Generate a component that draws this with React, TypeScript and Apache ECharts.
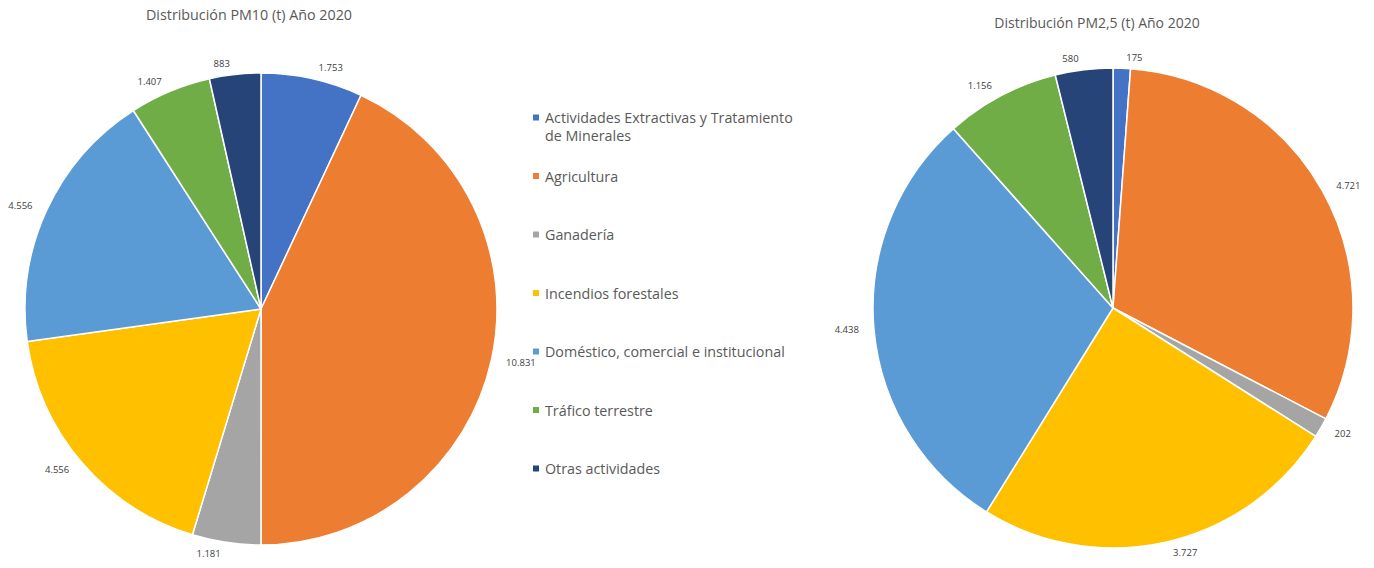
import React, { useEffect, useRef } from "react";
import * as echarts from "echarts";

const categories = [
  "Actividades Extractivas y Tratamiento de Minerales",
  "Agricultura",
  "Ganadería",
  "Incendios forestales",
  "Doméstico, comercial e institucional",
  "Tráfico terrestre",
  "Otras actividades",
];
const legendFirstLine = "Actividades Extractivas y Tratamiento";
const legendSecondLine = "de Minerales";
const colors = ["#4472C4", "#ED7D31", "#A5A5A5", "#FFC000", "#5B9BD5", "#70AD47", "#264478"];
const pm10Values = [1753, 10831, 1181, 4556, 4556, 1407, 883];
const pm25Values = [175, 4721, 202, 3727, 4438, 1156, 580];
const titles = ["Distribución PM10 (t) Año 2020", "Distribución PM2,5 (t) Año 2020"];

const fmt = (v: number) => String(v).replace(/\B(?=(\d{3})+(?!\d))/g, ".");

export default function App() {
  const ref = useRef<HTMLDivElement>(null);
  useEffect(() => {
    document.body.style.margin = "0";
    const chart = echarts.init(ref.current!, null, { renderer: "svg" });
    const font = "'Open Sans', 'Noto Sans', sans-serif";
    const mkSeries = (values: number[], center: [number, number], radius: number) => ({
      type: "pie",
      center,
      radius,
      startAngle: 90,
      clockwise: true,
      avoidLabelOverlap: true,
      data: categories.map((c, i) => ({ name: c, value: values[i], itemStyle: { color: colors[i] } })),
      itemStyle: { borderColor: "#ffffff", borderWidth: 1.5 },
      label: {
        show: true,
        position: "outside",
        formatter: (p: any) => fmt(p.value),
        fontFamily: font,
        fontSize: 9.5,
        color: "#404040",
        overflow: "none",
        distanceToLabelLine: 3,
      },
      labelLine: { show: false, length: 11, length2: 1 },
      emphasis: { disabled: true },
    });
    chart.setOption({
      animation: false,
      color: colors,
      title: [
        { text: titles[0], left: 244, top: 2, textAlign: "center", textStyle: { fontFamily: font, fontSize: 14.3, fontWeight: "normal", color: "#595959" } },
        { text: titles[1], left: 1092, top: 10, textAlign: "center", textStyle: { fontFamily: font, fontSize: 14, fontWeight: "normal", color: "#595959" } },
      ],
      legend: {
        orient: "vertical",
        left: 526,
        top: 103,
        icon: "rect",
        itemWidth: 8,
        itemHeight: 8,
        itemGap: 39.5,
        data: categories,
        formatter: (n: string) => (n === categories[0] ? legendFirstLine : n),
        textStyle: { fontFamily: font, fontSize: 14.3, color: "#595959", lineHeight: 19 },
        selectedMode: false,
      },
      graphic: [
        {
          type: "text",
          left: 545,
          top: 128,
          style: { text: legendSecondLine, font: `14.3px ${font}`, fill: "#595959" },
        },
      ],
      series: [mkSeries(pm10Values, [261, 309], 236), mkSeries(pm25Values, [1113, 308], 240)],
    });
    return () => chart.dispose();
  }, []);
  return <div ref={ref} style={{ width: 1374, height: 568 }} />;
}
